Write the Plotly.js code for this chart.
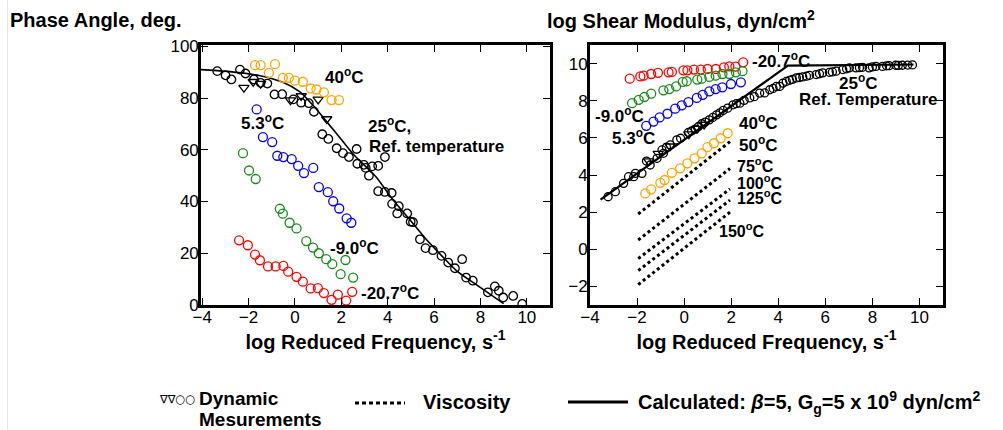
<!DOCTYPE html>
<html>
<head>
<meta charset="utf-8">
<script src="https://cdn.plot.ly/plotly-3.0.1.min.js"></script>
<style>
html,body{margin:0;padding:0;background:#fff;}
#chart{width:1003px;height:430px;}
</style>
</head>
<body>
<div id="chart"></div>
<script>
// ---------- Phase angle panel (left) ----------
const phaseRefX = [-3.35,-2.99,-2.74,-2.37,-2.13,-1.77,-1.48,-1.19,-0.88,-0.55,-0.07,0.27,0.60,0.82,1.18,1.44,1.80,2.07,2.33,2.66,2.69,2.97,3.05,3.19,3.33,3.59,3.88,3.59,3.88,4.17,4.19,4.48,4.41,4.84,4.99,5.09,5.39,5.63,5.95,6.32,6.61,6.90,7.21,7.38,7.67,8.32,8.62,8.79,8.98,9.41,9.80];
const phaseRefY = [90.4,88.8,87.2,91.0,89.5,87.2,85.9,85.6,81.4,81.5,79.5,78.2,78.0,74.7,66.0,64.2,60.6,58.7,57.2,60.3,54.6,54.2,53.0,50.0,53.6,53.8,57.2,44.0,43.7,43.3,39.1,38.2,35.4,35.4,32.2,32.0,25.4,22.0,21.2,19.0,16.4,14.2,17.7,10.6,9.4,4.9,7.2,5.5,2.9,3.5,0.4];
const phaseTriX = [-2.20,-1.80,-1.48,-0.19,0.27,1.00,1.37];
const phaseTriY = [84.0,86.3,85.6,79.2,80.8,79.5,71.9];
const phase40X = [-1.72,-1.48,-1.12,-0.86,-0.52,-0.26,0.00,0.34,0.68,0.93,1.25,1.58,1.90];
const phase40Y = [92.7,92.7,89.7,93.1,87.8,87.8,86.7,86.3,83.7,83.3,82.2,79.2,79.2];
const phase53X = [-1.65,-1.38,-0.98,-0.76,-0.50,-0.14,0.14,0.39,0.79,1.03,1.42,1.65,1.91,2.23,2.43];
const phase53Y = [75.6,64.9,63.0,57.7,57.2,56.4,53.8,51.0,53.0,45.6,43.6,40.1,37.3,33.5,31.8];
const phaseM9X = [-2.24,-1.98,-1.69,-0.65,-0.52,-0.23,0.07,0.49,0.78,1.03,1.35,1.61,1.97,2.18,2.51];
const phaseM9Y = [58.7,52.0,48.7,37.2,35.3,31.8,29.6,24.7,22.2,20.0,17.7,15.8,11.9,17.4,10.6];
const phaseM20X = [-2.41,-2.03,-1.72,-1.51,-1.16,-0.83,-0.50,-0.29,0.07,0.34,0.68,0.99,1.25,1.58,1.85,2.21,2.47];
const phaseM20Y = [25.0,23.1,19.5,17.3,14.9,14.9,15.1,12.9,10.9,9.0,6.4,6.5,4.6,2.0,4.0,1.7,5.1];
const phaseCalcX = [-4.05,-2.9,-1.5,-0.5,0.2,0.8,1.4,2.0,2.5,3.0,3.5,4.2,5.0,5.6,6.3,7.0,7.8,8.5,9.0];
const phaseCalcY = [91.0,90.3,88.6,86.0,82.5,77.0,70.5,64.0,58.5,54.0,49.5,41.0,32.5,26.0,19.3,13.0,8.0,3.6,0.5];

// ---------- Shear modulus panel (right) ----------
const modRefX = [-3.23,-2.92,-2.57,-2.36,-2.14,-2.07,-1.79,-1.60,-1.44,-1.15,-0.94,-0.88,-0.75,-0.59,-0.31,-0.15,0.18,0.32,0.47,0.60,0.75,0.90,1.07,1.22,1.38,1.52,1.66,1.85,2.08,2.22,2.37,2.55,2.79,2.98,3.21,3.42,3.64,3.78,3.92,4.06,4.20,4.34,4.48,4.60,4.77,4.90,5.04,5.20,5.33,5.61,5.75,5.89,6.17,6.30,6.46,6.74,6.90,7.02,7.30,7.45,7.58,7.86,8.00,8.15,8.43,8.60,8.71,8.99,9.10,9.27,9.50,9.70];
const modRefY = [2.83,3.10,3.55,3.91,3.91,4.09,4.09,4.75,4.54,4.90,5.35,5.17,5.50,5.62,5.89,5.98,6.29,6.37,6.47,6.60,6.76,6.85,6.97,7.10,7.24,7.35,7.48,7.60,7.78,7.84,7.87,8.02,8.15,8.22,8.41,8.42,8.59,8.66,8.77,8.77,8.95,9.04,9.10,9.15,9.23,9.25,9.28,9.32,9.37,9.41,9.45,9.50,9.53,9.55,9.59,9.68,9.72,9.77,9.77,9.78,9.80,9.77,9.82,9.85,9.85,9.88,9.89,9.91,9.90,9.91,9.92,9.93];
const modTriX = [-1.50,-1.10,-0.60,0.20,0.55,0.85];
const modTriY = [4.75,5.15,5.55,6.20,6.50,6.72];
const modM20X = [-2.31,-1.86,-1.72,-1.40,-1.11,-0.66,-0.52,-0.03,0.14,0.42,0.71,1.00,1.35,1.69,1.92,2.18,2.51];
const modM20Y = [9.19,9.31,9.35,9.44,9.50,9.53,9.55,9.64,9.64,9.68,9.68,9.71,9.71,9.80,9.85,9.84,10.07];
const modM9X = [-2.21,-1.93,-1.69,-1.40,-0.88,-0.63,-0.34,-0.06,0.11,0.56,0.75,1.07,1.34,1.63,1.92,2.20,2.48];
const modM9Y = [7.87,8.05,8.20,8.38,8.56,8.63,8.77,9.01,9.05,9.14,9.19,9.28,9.35,9.44,9.44,9.53,9.59];
const mod53X = [-1.61,-1.30,-1.04,-0.71,-0.38,-0.10,0.18,0.54,0.79,1.07,1.34,1.62,1.99,2.41];
const mod53Y = [6.65,6.88,7.10,7.30,7.57,7.75,7.93,8.15,8.32,8.50,8.63,8.72,8.90,8.99];
const mod40X = [-1.65,-1.40,-1.01,-0.83,-0.52,-0.17,0.14,0.44,0.75,0.99,1.27,1.55,1.85];
const mod40Y = [3.01,3.23,3.58,3.73,4.12,4.36,4.63,4.90,5.17,5.50,5.71,5.98,6.25];
const modCalcX = [-3.55,4.41,9.75];
const modCalcY = [2.68,9.89,9.95];
// viscosity lines (start / end values at the two end frequencies)
const viscTemps = ['50','75','100','125','150'];
const viscX = [-1.95,1.95];
const viscStart = [1.9,0.5,-0.5,-1.15,-1.9];
const viscEnd = [5.8,4.35,3.25,2.65,2.0];

// ---------- colours ----------
const cOrange = '#FFA500', cBlue = '#0000FF', cGreen = '#1A8C1A', cRed = '#FF0000';

function circ(x, y, color, xa, ya, size) {
  return {x: x, y: y, xaxis: xa, yaxis: ya, mode: 'markers', type: 'scatter', hoverinfo: 'skip',
    marker: {symbol: 'circle-open', size: size || 9, color: color, line: {width: 1.3, color: color}}};
}
function tri(x, y, xa, ya) {
  return {x: x, y: y, xaxis: xa, yaxis: ya, mode: 'markers', type: 'scatter', hoverinfo: 'skip',
    marker: {symbol: 'triangle-down-open', size: 9, color: '#000', line: {width: 1.3, color: '#000'}}};
}

const traces = [
  {x: phaseCalcX, y: phaseCalcY, xaxis: 'x', yaxis: 'y', mode: 'lines', type: 'scatter', hoverinfo: 'skip',
   line: {color: '#000', width: 1.6, shape: 'spline', smoothing: 0.8}},
  circ(phaseRefX, phaseRefY, '#000', 'x', 'y', 8.5),
  tri(phaseTriX, phaseTriY, 'x', 'y'),
  circ(phase40X, phase40Y, cOrange, 'x', 'y'),
  circ(phase53X, phase53Y, cBlue, 'x', 'y'),
  circ(phaseM9X, phaseM9Y, cGreen, 'x', 'y'),
  circ(phaseM20X, phaseM20Y, cRed, 'x', 'y'),

  {x: modCalcX, y: modCalcY, xaxis: 'x2', yaxis: 'y2', mode: 'lines', type: 'scatter', hoverinfo: 'skip',
   line: {color: '#000', width: 2.2}},
  circ(modRefX, modRefY, '#000', 'x2', 'y2', 8),
  tri(modTriX, modTriY, 'x2', 'y2'),
  circ(modM20X, modM20Y, cRed, 'x2', 'y2'),
  circ(modM9X, modM9Y, cGreen, 'x2', 'y2'),
  circ(mod53X, mod53Y, cBlue, 'x2', 'y2'),
  circ(mod40X, mod40Y, cOrange, 'x2', 'y2')
];
viscTemps.forEach(function (t, i) {
  traces.push({x: viscX, y: [viscStart[i], viscEnd[i]], xaxis: 'x2', yaxis: 'y2', mode: 'lines', type: 'scatter',
    hoverinfo: 'skip', name: t, line: {color: '#000', width: 3, dash: '3px,3px'}});
});

const FONT = 'Liberation Sans, Arial, Helvetica, sans-serif';

function axisBase() {
  return {showline: true, linewidth: 2.8, linecolor: '#000', mirror: 'ticks', ticks: 'inside', ticklen: 7,
    tickwidth: 1, tickcolor: '#000', showgrid: false, zeroline: false,
    tickfont: {family: FONT, size: 17, color: '#000'}};
}
const yDom = [0.2907, 0.8953];
const xaxis = Object.assign(axisBase(), {domain: [0.2004, 0.5484], range: [-4.05, 11], anchor: 'y',
  tickvals: [-4,-2,0,2,4,6,8,10], ticklabelstandoff: -5,
  title: {text: '<b>log Reduced Frequency, s<sup>-1</sup></b>', font: {family: FONT, size: 20, color: '#000'}, standoff: 2}});
const yaxis = Object.assign(axisBase(), {domain: yDom, range: [0, 100.5], anchor: 'x',
  tickvals: [0,20,40,60,80,100], ticklabelstandoff: -4});
const xaxis2 = Object.assign(axisBase(), {domain: [0.5882, 0.9402], range: [-4, 11], anchor: 'y2',
  tickvals: [-4,-2,0,2,4,6,8,10], ticklabelstandoff: -5,
  title: {text: '<b>log Reduced Frequency, s<sup>-1</sup></b>', font: {family: FONT, size: 20, color: '#000'}, standoff: 2}});
const yaxis2 = Object.assign(axisBase(), {domain: yDom, range: [-3, 11], anchor: 'x2',
  tickvals: [-2,0,2,4,6,8,10], ticklabelstandoff: -4});

function lab(text, x, y, xr, yr, xanchor, size) {
  return {text: '<b>' + text + '</b>', x: x, y: y, xref: xr, yref: yr, showarrow: false,
    xanchor: xanchor || 'left', yanchor: 'middle', font: {family: FONT, size: size || 17, color: '#000'}};
}
function plab(text, px, py, size, family) {
  return {text: text, x: px/1003, y: 1 - py/430, xref: 'paper', yref: 'paper', showarrow: false,
    xanchor: 'left', yanchor: 'middle', font: {family: family || FONT, size: size, color: '#000'}};
}
const deg = '<sup>o</sup>C';
const annotations = [
  // panel titles
  plab('<b>Phase Angle, deg.</b>', 8, 20, 20),
  plab('<b>log Shear Modulus, dyn/cm<sup>2</sup></b>', 545, 20, 20),
  // left panel labels
  lab('40' + deg, 1.2, 88.5, 'x', 'y'),
  lab('5.3' + deg, -2.42, 70.8, 'x', 'y'),
  lab('25' + deg + ',', 3.06, 69.6, 'x', 'y'),
  lab('Ref. temperature', 3.1, 61.2, 'x', 'y'),
  lab('-9.0' + deg, 1.42, 22.6, 'x', 'y'),
  lab('-20.7' + deg, 2.78, 5.2, 'x', 'y'),
  // right panel labels
  lab('-20.7' + deg, 2.79, 10.22, 'x2', 'y2'),
  lab('-9.0' + deg, -3.89, 7.24, 'x2', 'y2'),
  lab('5.3' + deg, -3.13, 6.04, 'x2', 'y2'),
  lab('40' + deg, 2.24, 6.88, 'x2', 'y2'),
  lab(viscTemps[0] + deg, 2.24, 5.68, 'x2', 'y2'),
  lab(viscTemps[1] + deg, 2.16, 4.56, 'x2', 'y2', 'left', 16),
  lab(viscTemps[2] + deg, 2.16, 3.64, 'x2', 'y2', 'left', 16),
  lab(viscTemps[3] + deg, 2.16, 2.80, 'x2', 'y2', 'left', 16),
  lab(viscTemps[4] + deg, 1.40, 1.03, 'x2', 'y2', 'left', 16),
  lab('25' + deg, 6.51, 9.02, 'x2', 'y2'),
  lab('Ref. Temperature', 4.78, 8.05, 'x2', 'y2'),
  // legend
  plab('\u2207\u2207\u25CB\u25CB', 157, 399, 11.5, 'DejaVu Sans, sans-serif'),
  plab('<b>Dynamic</b>', 197, 398, 19),
  plab('<b>Mesurements</b>', 197, 419, 19),
  plab('<b>Viscosity</b>', 421, 402, 20),
  plab('<b>Calculated: <i>\u03B2</i>=5, G<sub>g</sub>=5 x 10<sup>9</sup> dyn/cm<sup>2</sup></b>', 636, 402, 20)
];

const shapes = [
  {type: 'line', xref: 'paper', yref: 'paper', x0: 355/1003, x1: 405/1003, y0: 1 - 403/430, y1: 1 - 403/430,
   line: {color: '#000', width: 3, dash: '4px,3px'}},
  {type: 'line', xref: 'paper', yref: 'paper', x0: 568/1003, x1: 628/1003, y0: 1 - 402/430, y1: 1 - 402/430,
   line: {color: '#000', width: 3}},
  {type: 'line', xref: 'paper', yref: 'paper', x0: 7.5/1003, x1: 7.5/1003, y0: 0, y1: 1,
   line: {color: '#e6e6e6', width: 1}}
];

const layout = {
  width: 1003, height: 430, margin: {l: 0, r: 0, t: 0, b: 0},
  paper_bgcolor: '#fff', plot_bgcolor: '#fff', showlegend: false,
  font: {family: FONT, color: '#000'},
  xaxis: xaxis, yaxis: yaxis, xaxis2: xaxis2, yaxis2: yaxis2,
  annotations: annotations, shapes: shapes
};

Plotly.newPlot('chart', traces, layout, {staticPlot: true, displayModeBar: false});
</script>
</body>
</html>
